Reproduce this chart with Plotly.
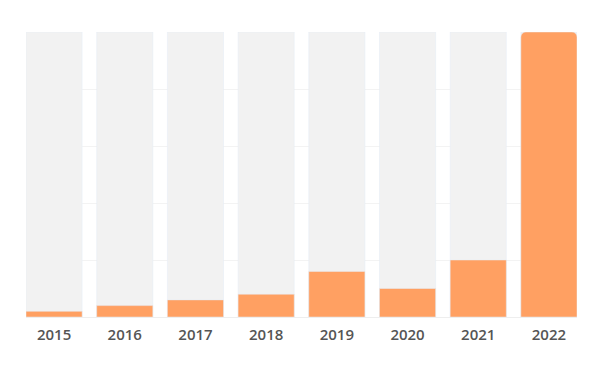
import plotly.graph_objects as go

years = ["2015", "2016", "2017", "2018", "2019", "2020", "2021", "2022"]
values = [2, 4, 6, 8, 16, 10, 20, 100]
y_max = 100
grid_ticks = [0, 20, 40, 60, 80, 100]

bar_w = 0.794
orange = "#FFA062"
grey = "#F2F2F2"

last = len(years) - 1
fig = go.Figure()
fig.add_trace(go.Bar(x=years, y=[y_max] * len(years), marker_color=grey,
                     width=bar_w, hoverinfo="skip", showlegend=False))
fig.add_trace(go.Bar(x=years[:last], y=values[:last], marker_color=orange,
                     width=bar_w, showlegend=False))
fig.add_trace(go.Bar(x=years[last:], y=values[last:], marker_color=orange,
                     width=bar_w, marker_cornerradius=5, showlegend=False))

fig.update_layout(
    width=606, height=384,
    margin=dict(l=18, r=37, t=24, b=75, pad=0),
    barmode="overlay",
    plot_bgcolor="white", paper_bgcolor="white",
    font=dict(family="Open Sans", size=15, color="#555555"),
    xaxis=dict(type="category", range=[-0.397, 7.397], showgrid=False,
               showline=True, linecolor="#EEEEEE", linewidth=1,
               ticks="", ticklabelstandoff=4,
               tickfont=dict(size=15, color="#555555", weight=600)),
    yaxis=dict(range=[0, y_max], tickvals=grid_ticks, showticklabels=False,
               showgrid=True, gridcolor="#F3F3F3", gridwidth=1,
               zeroline=False, showline=False),
)

fig.write_html("out.html")
